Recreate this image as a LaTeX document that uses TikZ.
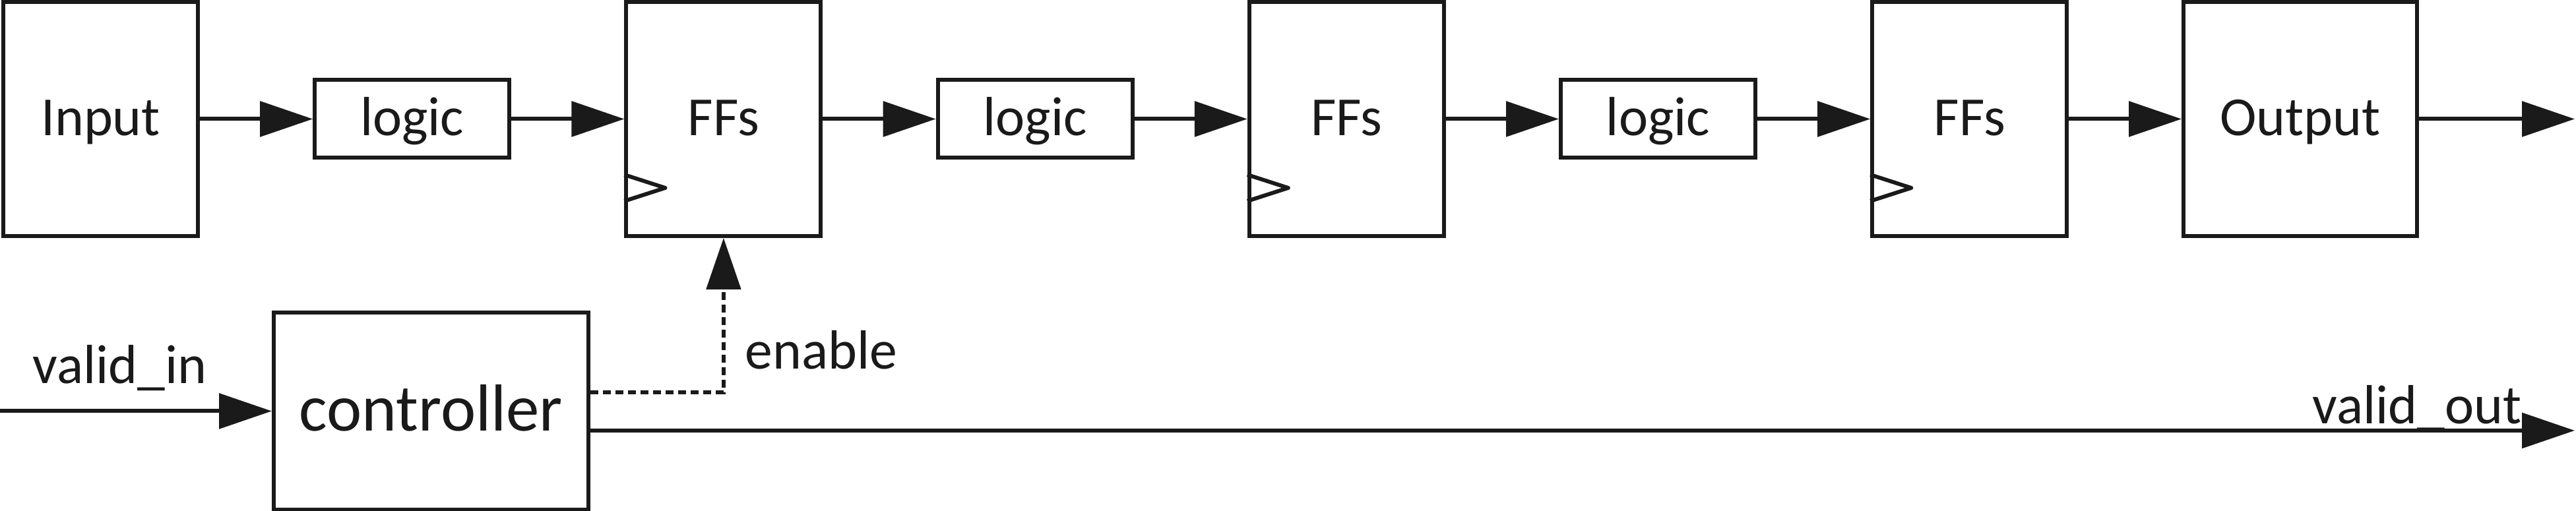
\documentclass[tikz,border=0pt]{standalone}
\usepackage{fontspec}
\setmainfont{Carlito}
\usetikzlibrary{arrows.meta}
\definecolor{ink}{RGB}{26,26,26}
\begin{document}
\begin{tikzpicture}[x=1cm,y=1cm, color=ink,
  blk/.style={draw=ink, text=ink, line width=1.7pt, inner sep=0pt,
    font=\fontsize{23.8}{28}\selectfont, text height=0.51cm, text depth=0cm},
  tallbox/.style={blk, minimum width=2.95cm, minimum height=3.55cm},
  logicbox/.style={blk, minimum width=2.95cm, minimum height=1.18cm},
  ctrlbox/.style={blk, minimum width=4.77cm, minimum height=2.99cm,
    font=\fontsize{28.7}{34}\selectfont, text height=0.61cm},
  lbl/.style={text=ink, inner sep=0pt, font=\fontsize{23.8}{28}\selectfont, anchor=base west},
  arr/.style={draw=ink, line width=1.7pt, -{Triangle[length=0.8cm,width=0.53cm]}},
  enarr/.style={draw=ink, line width=1.5pt, dash pattern=on 0.12cm off 0.07cm,
    -{Triangle[length=0.78cm,width=0.52cm]}},
  clk/.style={draw=ink, line width=1.7pt, line join=round}
]
\useasboundingbox (0,0) rectangle (39.05,7.75);

% top row
\node[tallbox]  (inp) at (1.525,5.945)  {Input};
\node[logicbox] (lg1) at (6.247,5.945)  {logic};
\node[tallbox]  (ff1) at (10.969,5.945) {FFs};
\node[logicbox] (lg2) at (15.691,5.945) {logic};
\node[tallbox]  (ff2) at (20.413,5.945) {FFs};
\node[logicbox] (lg3) at (25.135,5.945) {logic};
\node[tallbox]  (ff3) at (29.857,5.945) {FFs};
\node[tallbox, minimum width=3.54cm]  (out) at (34.87,5.945) {Output};

% clock triangles
\foreach \f in {ff1,ff2,ff3}{
  \draw[clk] ([yshift=0.96cm]\f.south west) -- ([xshift=0.62cm,yshift=0.76cm]\f.south west) -- ([yshift=0.56cm]\f.south west);
}

% controller
\node[ctrlbox] (ctrl) at (6.535,1.515) {controller};

% coordinates
\coordinate (vin) at (0,1.515);
\coordinate (oend) at (39.03,5.945);
\coordinate (vend) at (39.03,1.22);
\coordinate (enY) at (0,1.80);

% top connectors
\draw[arr] (inp.east) -- (lg1.west);
\draw[arr] (lg1.east) -- (ff1.west);
\draw[arr] (ff1.east) -- (lg2.west);
\draw[arr] (lg2.east) -- (ff2.west);
\draw[arr] (ff2.east) -- (lg3.west);
\draw[arr] (lg3.east) -- (ff3.west);
\draw[arr] (ff3.east) -- (out.west);
\draw[arr] (out.east) -- (oend);

% bottom connectors
\draw[arr] (vin) -- (ctrl.west);
\draw[arr] (ctrl.east |- vend) -- (vend);
\draw[enarr] (ctrl.east |- enY) -| (ff1.south);

% labels
\node[lbl] (lvin) at (0.49,1.93) {valid\_in};
\node[lbl] (len) at (11.29,2.15) {enable};
\node[lbl] (lvout) at (35.05,1.32) {valid\_out};
\end{tikzpicture}
\end{document}
